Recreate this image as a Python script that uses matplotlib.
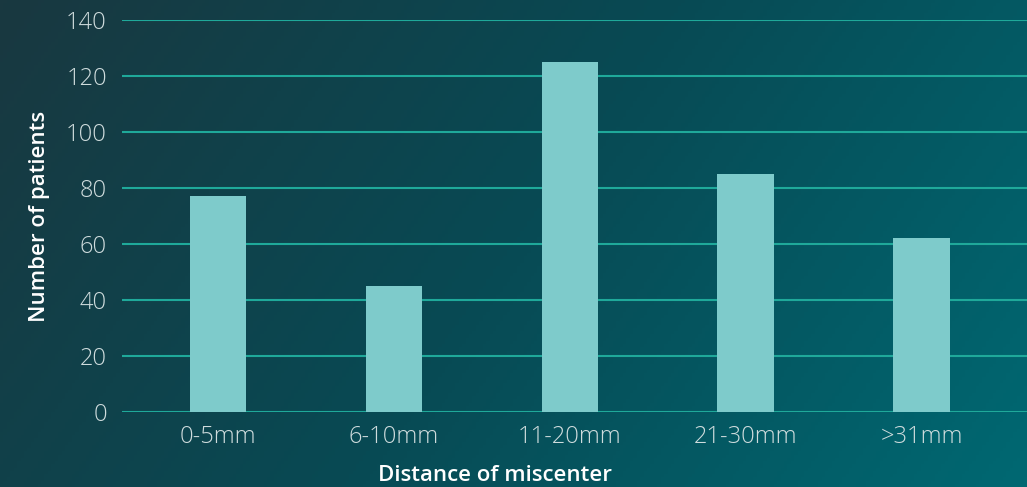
import matplotlib.pyplot as plt
import numpy as np
from matplotlib.colors import LinearSegmentedColormap

categories = ['0-5mm', '6-10mm', '11-20mm', '21-30mm', '>31mm']
patients = [77, 45, 125, 85, 62]
yticks = [0, 20, 40, 60, 80, 100, 120, 140]

fig = plt.figure(figsize=(10.27, 4.87), dpi=100)

# background gradient, dark top-left to teal right
bg = fig.add_axes([0, 0, 1, 1], zorder=-1)
gx, gy = np.meshgrid(np.linspace(0, 1, 300), np.linspace(0, 1, 150))
grad = 0.75 * gx + 0.25 * gy
cmap = LinearSegmentedColormap.from_list('bg', ['#193840', '#084a54', '#006872'])
bg.imshow(grad, cmap=cmap, aspect='auto', extent=[0, 1, 0, 1], origin='upper')
bg.axis('off')

ax = fig.add_axes([0.119, 0.154, 0.881, 0.805])
ax.set_facecolor('none')
x = np.arange(len(categories))
ax.bar(x, patients, width=0.32, color='#7ecbcb', zorder=3)

ax.set_ylim(0, 140)
ax.set_xlim(-0.545, 4.6)
ax.set_yticks(yticks)
ax.set_xticks(x)
ax.set_xticklabels(categories)
ax.yaxis.grid(True, color='#1fa99a', linewidth=1.5, zorder=0)
ax.set_axisbelow(True)
for s in ax.spines.values():
    s.set_visible(False)
ax.tick_params(length=0, labelsize=17, labelcolor='#cfdcdd', pad=11)
ax.tick_params(axis='x', pad=9)
for lab in ax.get_xticklabels() + ax.get_yticklabels():
    lab.set_family('Open Sans')
    lab.set_weight('light')

ax.set_ylabel('Number of patients', fontsize=16, color='white', family='Open Sans',
              fontweight='semibold')
ax.yaxis.set_label_coords(-0.08, 0.5)
ax.set_xlabel('Distance of miscenter', fontsize=16, color='white', family='Open Sans',
              fontweight='semibold')
ax.xaxis.set_label_coords(0.412, -0.135)

fig.savefig('out.png', dpi=100)
